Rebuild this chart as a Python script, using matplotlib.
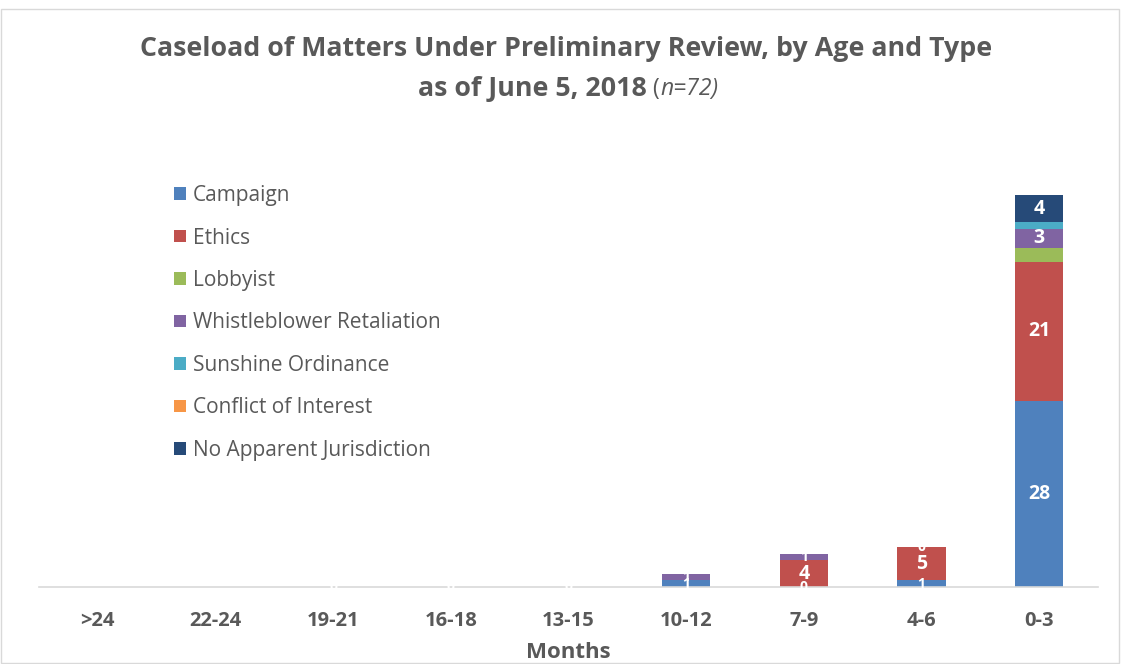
import numpy as np
import matplotlib.pyplot as plt
from matplotlib.patches import Rectangle

plt.rcParams['font.family'] = ['Open Sans', 'DejaVu Sans']

months = ['>24', '22-24', '19-21', '16-18', '13-15', '10-12', '7-9', '4-6', '0-3']
series = ['Campaign', 'Ethics', 'Lobbyist', 'Whistleblower Retaliation',
          'Sunshine Ordinance', 'Conflict of Interest', 'No Apparent Jurisdiction']
colors = ['#4F81BD', '#C0504D', '#9BBB59', '#8064A2', '#4BACC6', '#F79646', '#264A78']

nan = np.nan
# nan = no entry, 0 = explicit zero (label drawn)
campaign = [nan, nan, 0, 0, 0, 1, 0, 1, 28]
ethics = [nan, nan, nan, nan, nan, nan, 4, 5, 21]
lobbyist = [nan, nan, nan, nan, nan, nan, nan, nan, 2]
whistle = [nan, nan, nan, nan, nan, 1, 1, 0, 3]
sunshine = [nan, nan, nan, nan, nan, nan, nan, nan, 1]
conflict = [nan, nan, nan, nan, nan, nan, nan, nan, nan]
no_juris = [nan, nan, nan, nan, nan, nan, nan, nan, 4]
data = [campaign, ethics, lobbyist, whistle, sunshine, conflict, no_juris]

fig = plt.figure(figsize=(11.25, 6.64), dpi=100)
ax = fig.add_axes([39 / 1125, 1 - 587 / 664, (1098 - 39) / 1125, 470 / 664])

x = np.arange(len(months))
bottom = np.zeros(len(months))
for name, vals, c in zip(series, data, colors):
    v = np.nan_to_num(np.array(vals, dtype=float))
    ax.bar(x, v, 0.41, bottom=bottom, color=c, label=name)
    for i, val in enumerate(vals):
        if np.isnan(val):
            continue
        if name in ('Lobbyist', 'Sunshine Ordinance'):
            continue
        # small segments get a smaller label, as in the original
        fs = 14 if val >= 2 else 10
        ax.text(x[i], bottom[i] + v[i] / 2, f'{int(val)}', ha='center', va='center',
                color='white', fontsize=fs, fontweight='bold')
    bottom += v

ax.set_xlim(-0.5, len(months) - 0.5)
ax.set_ylim(0, 70.8)
ax.set_yticks([])
for s in ['top', 'right', 'left']:
    ax.spines[s].set_visible(False)
ax.spines['bottom'].set_color('#D9D9D9')
ax.spines['bottom'].set_linewidth(1.2)
ax.set_xticks(x)
ax.set_xticklabels(months, fontsize=14.5, fontweight='bold', color='#595959')
ax.tick_params(axis='x', length=0, pad=17)
ax.set_xlabel('Months', fontsize=16, fontweight='bold', color='#595959', labelpad=8)

ax.legend(loc='upper left', bbox_to_anchor=(0.110, 0.895), frameon=False, fontsize=15,
          labelcolor='#595959', handlelength=0.55, handleheight=0.55, handletextpad=0.35,
          labelspacing=1.03)

fig.text(0.503, 1 - 49 / 664, 'Caseload of Matters Under Preliminary Review, by Age and Type',
         ha='center', va='center', fontsize=19.3, fontweight='bold', color='#595959')
fig.text(0.575, 1 - 89 / 664, 'as of June 5, 2018', ha='right', va='center',
         fontsize=19.3, fontweight='bold', color='#595959')
fig.text(0.580, 1 - 89 / 664, '(', ha='left', va='center', fontsize=16.5, color='#595959')
fig.text(0.587, 1 - 89 / 664, 'n=72)', ha='left', va='center', fontsize=16.5,
         style='italic', color='#595959')

fig.patches.append(Rectangle((0.001, 0.001), 1118 / 1125, 0.986, transform=fig.transFigure,
                             fill=False, edgecolor='#D9D9D9', linewidth=1))

fig.savefig('out.png', dpi=100)
